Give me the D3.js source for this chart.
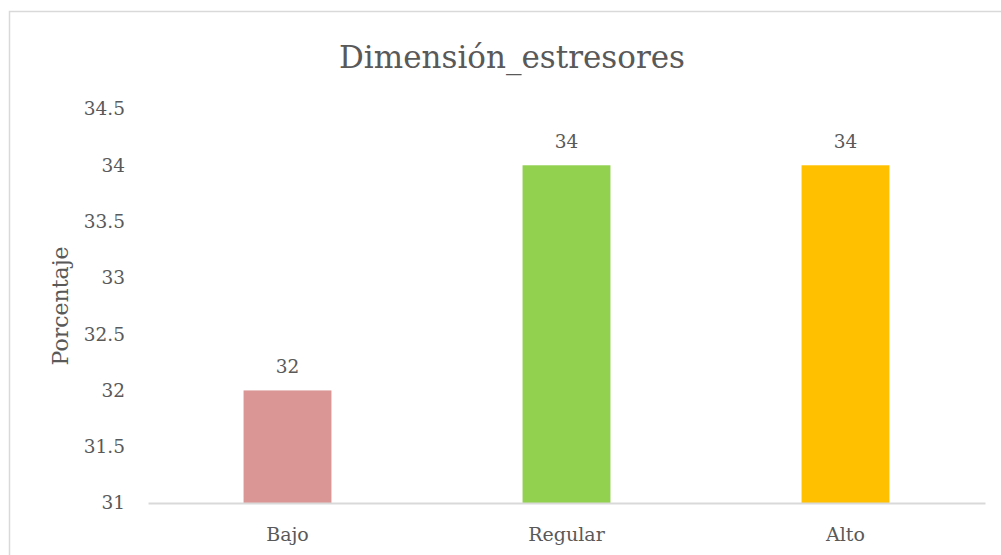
<!DOCTYPE html>
<html>
<head>
<meta charset="utf-8">
<script src="https://cdn.jsdelivr.net/npm/d3@7"></script>
<style>
  body { margin: 0; background: #fff; }
  text { font-family: "DejaVu Serif", serif; fill: #595959; }
</style>
</head>
<body>
<div id="chart"></div>
<script>
// chart data
const title = "Dimensión_estresores";
const yLabel = "Porcentaje";
const categories = ["Bajo", "Regular", "Alto"];
const values = [32, 34, 34];
const colors = ["#d99694", "#92d050", "#ffc000"];
const yTicks = [31, 31.5, 32, 32.5, 33, 33.5, 34, 34.5];

const width = 1001;
const height = 555;

const margin = { top: 109, right: 16, bottom: 52, left: 148 };

const svg = d3.select("#chart")
	.append("svg")
		.attr("width", width)
		.attr("height", height);

// outer chart border (only top and left visible)
svg.append("rect")
	.attr("x", 9.5)
	.attr("y", 11.5)
	.attr("width", width + 20)
	.attr("height", height + 20)
	.attr("fill", "none")
	.attr("stroke", "#d9d9d9")
	.attr("stroke-width", 1.5);

const xScale = d3.scaleBand()
	.domain(categories)
	.range([margin.left, width - margin.right])
	.paddingInner(0.685)
	.paddingOuter(0.3425);

const yScale = d3.scaleLinear()
	.domain([31, 34.5])
	.range([height - margin.bottom, margin.top]);

// title
svg.append("text")
	.attr("x", 512)
	.attr("y", 68)
	.attr("text-anchor", "middle")
	.style("font-size", "31px")
	.text(title);

// y axis tick labels (no axis line)
const yAxis = svg.append("g")
	.attr("transform", `translate(${margin.left},0)`)
	.call(d3.axisLeft(yScale).tickValues(yTicks).tickSize(0).tickPadding(23).tickFormat(d3.format("")));
yAxis.select(".domain").remove();
yAxis.selectAll("text")
	.style("font-size", "18.5px")
	.attr("fill", "#595959");

// y label
svg.append("text")
	.attr("transform", `translate(68,${(yScale(31) + yScale(34.5)) / 2}) rotate(-90)`)
	.attr("text-anchor", "middle")
	.style("font-size", "22px")
	.text(yLabel);

// bars
svg.append("g")
	.selectAll("rect")
	.data(values)
	.join("rect")
		.attr("x", (d, i) => xScale(categories[i]))
		.attr("y", d => yScale(d))
		.attr("width", xScale.bandwidth())
		.attr("height", d => yScale(31) - yScale(d))
		.attr("fill", (d, i) => colors[i]);

// data labels
svg.append("g")
	.selectAll("text")
	.data(values)
	.join("text")
		.attr("x", (d, i) => xScale(categories[i]) + xScale.bandwidth() / 2)
		.attr("y", d => yScale(d) - 17)
		.attr("text-anchor", "middle")
		.style("font-size", "18.5px")
		.text(d => d);

// x axis
const xAxis = svg.append("g")
	.attr("transform", `translate(0,${yScale(31)})`)
	.call(d3.axisBottom(xScale).tickSize(0).tickPadding(25));
xAxis.select(".domain")
	.attr("stroke", "#d9d9d9")
	.attr("stroke-width", 2);
xAxis.selectAll("text")
	.style("font-size", "19px")
	.attr("fill", "#595959");
</script>
</body>
</html>
